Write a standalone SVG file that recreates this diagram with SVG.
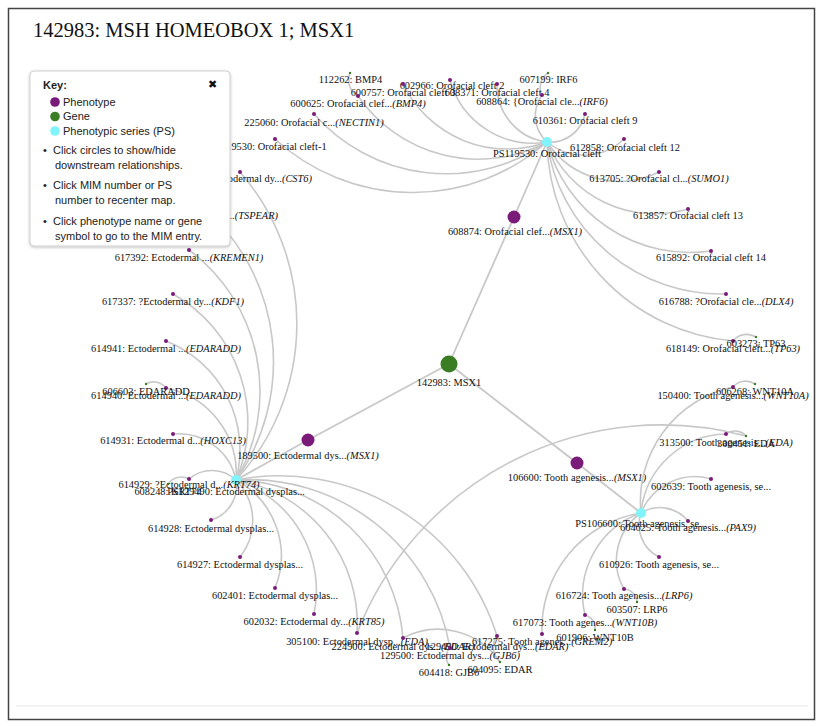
<svg xmlns="http://www.w3.org/2000/svg" width="823" height="727" viewBox="0 0 823 727">
<defs>
<style>
.e{fill:none;stroke:#c8c8c8;stroke-width:1.6}
.s{fill:none;stroke:#c8c8c8;stroke-width:1.8}
.l{font-family:"Liberation Serif",serif;font-size:10.4px;text-anchor:middle;fill:#111}
.i{font-style:italic}
.ph{fill:#7a1b7a}
.gn{fill:#3a7d22}
.ps{fill:#80f4fa}
.k{font-family:"Liberation Sans",Arial,sans-serif;font-size:11px;fill:#222}
</style>
<filter id="sh" x="-10%" y="-10%" width="120%" height="120%">
<feDropShadow dx="0" dy="1" stdDeviation="1.5" flood-color="#000" flood-opacity="0.25"/>
</filter>
</defs>
<rect x="0" y="0" width="823" height="727" fill="#fff"/>
<rect x="8.5" y="8.5" width="806" height="711" fill="#fff" stroke="#444" stroke-width="1.5"/>
<line x1="16" y1="706" x2="808" y2="706" stroke="#f2f2f2" stroke-width="2"/>
<text x="33" y="37" font-family="Liberation Serif,serif" font-size="20.5" fill="#111">142983: MSH HOMEOBOX 1; MSX1</text>

<g id="connectors">
<path class="s" d="M449,364 L514,217"/>
<path class="s" d="M449,364 L308,440"/>
<path class="s" d="M449,364 L577,463"/>
<path class="s" d="M514,217 L547,142"/>
<path class="s" d="M308,440 L236,480"/>
<path class="s" d="M577,463 L641,513"/>
<path class="e" d="M547,142 A204,204 0 0,1 275,139"/>
<path class="e" d="M547,142 A176,176 0 0,1 314,114"/>
<path class="e" d="M547,142 A146,146 0 0,1 358,96"/>
<path class="e" d="M547,142 A116,116 0 0,1 403,84"/>
<path class="e" d="M547,142 A86,86 0 0,1 450,80"/>
<path class="e" d="M547,142 A57,57 0 0,1 497,84"/>
<path class="e" d="M547,142 A35.5,35.5 0 0,1 542,95"/>
<path class="e" d="M547,142 A35.4,35.4 0 0,0 585,114"/>
<path class="e" d="M547,142 A58,58 0 0,0 624,139"/>
<path class="e" d="M547,142 A87,87 0 0,0 659,172"/>
<path class="e" d="M547,142 A117,117 0 0,0 688,209"/>
<path class="e" d="M547,142 A148,148 0 0,0 711,251"/>
<path class="e" d="M547,142 A176,176 0 0,0 726,294"/>
<path class="e" d="M547,142 A204,204 0 0,0 733,341"/>
<path class="e" d="M236,480 A231,231 0 0,0 240,172"/>
<path class="e" d="M236,480 A205,205 0 0,0 204,208"/>
<path class="e" d="M236,480 A176,176 0 0,0 189,250"/>
<path class="e" d="M236,480 A147,147 0 0,0 173,294"/>
<path class="e" d="M236,480 A117,117 0 0,0 166,341"/>
<path class="e" d="M236,480 A87,87 0 0,0 166,388"/>
<path class="e" d="M236,480 A58.5,58.5 0 0,0 173,434"/>
<path class="e" d="M236,480 A35,35 0 0,0 189,479"/>
<path class="e" d="M236,480 A35.4,35.4 0 0,1 211,520"/>
<path class="e" d="M236,480 A58,58 0 0,1 240,557"/>
<path class="e" d="M236,480 A86,86 0 0,1 275,588"/>
<path class="e" d="M236,480 A116,116 0 0,1 314,614"/>
<path class="e" d="M236,480 A146,146 0 0,1 357,633"/>
<path class="e" d="M236,480 A172,172 0 0,1 403,638"/>
<path class="e" d="M236,480 A204,204 0 0,1 450,648"/>
<path class="e" d="M236,480 A228,228 0 0,1 497,636"/>
<path class="e" d="M641,513 A117,117 0 0,1 733,387"/>
<path class="e" d="M641,513 A87,87 0 0,1 726,434"/>
<path class="e" d="M641,513 A58,58 0 0,1 711,479"/>
<path class="e" d="M641,513 A36,36 0 0,1 688,521"/>
<path class="e" d="M641,513 A36,36 0 0,0 659,557"/>
<path class="e" d="M641,513 A58,58 0 0,0 624,589"/>
<path class="e" d="M641,513 A87,87 0 0,0 585,615"/>
<path class="e" d="M641,513 A117,117 0 0,0 542,634"/>
<path class="e" d="M358,96 A18.3,18.3 0 0,1 350,73"/>
<path class="e" d="M542,95 A17,17 0 0,1 548,73"/>
<path class="e" d="M733,341 A17.5,17.5 0 0,1 756,337"/>
<path class="e" d="M733,387 A16.6,16.6 0 0,1 755,384"/>
<path class="e" d="M726,434 A15,15 0 0,1 746,436"/>
<path class="e" d="M357,633 A327,327 0 0,1 746,436"/>
<path class="e" d="M624,589 A13.8,13.8 0 0,1 637,602"/>
<path class="e" d="M585,615 A13.5,13.5 0 0,1 595,630"/>
<path class="e" d="M403,638 A75,75 0 0,1 500,662"/>
<path class="e" d="M497,636 A19.6,19.6 0 0,0 500,662"/>
<path class="e" d="M450,648 A12.8,12.8 0 0,0 449,665"/>
<path class="e" d="M189,479 A16.2,16.2 0 0,0 168,484"/>
<path class="e" d="M166,388 A15.3,15.3 0 0,0 146,384"/>
</g>

<g id="n142983"><circle cx="449" cy="364" r="8.5" class="gn"/><text class="l" x="449" y="386">142983: MSX1</text></g>
<g id="n608874"><circle cx="514" cy="217" r="6.5" class="ph"/><text class="l" x="515" y="235">608874: Orofacial clef...<tspan class="i">(MSX1)</tspan></text></g>
<g id="n189500"><circle cx="308" cy="440" r="6.5" class="ph"/><text class="l" x="308" y="459">189500: Ectodermal dys...<tspan class="i">(MSX1)</tspan></text></g>
<g id="n106600"><circle cx="577" cy="463" r="6.5" class="ph"/><text class="l" x="577" y="481">106600: Tooth agenesis...<tspan class="i">(MSX1)</tspan></text></g>

<g id="ps119530"><circle cx="547" cy="142" r="5" class="ps"/><text class="l" x="547" y="157">PS119530: Orofacial cleft</text></g>
<g id="ps129490"><circle cx="236" cy="480" r="5" class="ps"/><text class="l" x="236" y="495">PS129490: Ectodermal dysplas...</text></g>
<g id="ps106600"><circle cx="641" cy="513" r="5" class="ps"/><text class="l" x="641" y="527">PS106600: Tooth agenesis, se...</text></g>

<g id="g112262"><circle cx="350" cy="73" r="1.2" class="gn"/><text class="l" x="350.5" y="83">112262: BMP4</text></g>
<g id="g607199"><circle cx="548" cy="73" r="1.2" class="gn"/><text class="l" x="548.5" y="83">607199: IRF6</text></g>
<g id="p602966"><circle cx="450" cy="80" r="2" class="ph"/><text class="l" x="452" y="89">602966: Orofacial cleft 2</text></g>
<g id="p600757"><circle cx="403" cy="84" r="2" class="ph"/><text class="l" x="403" y="96">600757: Orofacial cleft 3</text></g>
<g id="p608371"><circle cx="497" cy="84" r="2" class="ph"/><text class="l" x="497" y="96">608371: Orofacial cleft 4</text></g>
<g id="p608864"><circle cx="542" cy="95" r="2" class="ph"/><text class="l" x="542" y="105">608864: {Orofacial cle...<tspan class="i">(IRF6)</tspan></text></g>
<g id="p600625"><circle cx="358" cy="96" r="2" class="ph"/><text class="l" x="358" y="107">600625: Orofacial clef...<tspan class="i">(BMP4)</tspan></text></g>
<g id="p225060"><circle cx="314" cy="114" r="2" class="ph"/><text class="l" x="314" y="126">225060: Orofacial c...<tspan class="i">(NECTIN1)</tspan></text></g>
<g id="p119530"><circle cx="275" cy="139" r="2" class="ph"/><text class="l" x="274" y="150">119530: Orofacial cleft-1</text></g>
<g id="p610361"><circle cx="585" cy="114" r="2" class="ph"/><text class="l" x="585" y="124">610361: Orofacial cleft 9</text></g>
<g id="p612858"><circle cx="624" cy="139" r="2" class="ph"/><text class="l" x="625" y="151">612858: Orofacial cleft 12</text></g>
<g id="p613705"><circle cx="659" cy="172" r="2" class="ph"/><text class="l" x="659" y="182">613705: ?Orofacial cl...<tspan class="i">(SUMO1)</tspan></text></g>
<g id="p613857"><circle cx="688" cy="209" r="2" class="ph"/><text class="l" x="688" y="219">613857: Orofacial cleft 13</text></g>
<g id="p615892"><circle cx="711" cy="251" r="2" class="ph"/><text class="l" x="711" y="261">615892: Orofacial cleft 14</text></g>
<g id="p616788"><circle cx="726" cy="294" r="2" class="ph"/><text class="l" x="726" y="305">616788: ?Orofacial cle...<tspan class="i">(DLX4)</tspan></text></g>
<g id="p618149"><circle cx="733" cy="341" r="2" class="ph"/><text class="l" x="733" y="352">618149: Orofacial cleft...<tspan class="i">(TP63)</tspan></text></g>
<g id="g603273"><circle cx="756" cy="337" r="1.2" class="gn"/><text class="l" x="756" y="347">603273: TP63</text></g>

<g id="pCST6"><circle cx="240" cy="172" r="2" class="ph"/><text class="l" x="312" y="182" style="text-anchor:end">Ectodermal dy...<tspan class="i">(CST6)</tspan></text></g>
<g id="pTSPEAR"><circle cx="204" cy="208" r="2" class="ph"/><text class="l" x="278" y="219" style="text-anchor:end">Ectodermal ...<tspan class="i">(TSPEAR)</tspan></text></g>
<g id="p617392"><circle cx="189" cy="250" r="2" class="ph"/><text class="l" x="189" y="261">617392: Ectodermal ...<tspan class="i">(KREMEN1)</tspan></text></g>
<g id="p617337"><circle cx="173" cy="294" r="2" class="ph"/><text class="l" x="173" y="305">617337: ?Ectodermal dy...<tspan class="i">(KDF1)</tspan></text></g>
<g id="p614941"><circle cx="166" cy="341" r="2" class="ph"/><text class="l" x="166" y="352">614941: Ectodermal ...<tspan class="i">(EDARADD)</tspan></text></g>
<g id="p614940"><circle cx="166" cy="388" r="2" class="ph"/><text class="l" x="166" y="399">614940: Ectodermal ...<tspan class="i">(EDARADD)</tspan></text></g>
<g id="g606603"><circle cx="146" cy="384" r="1.2" class="gn"/><text class="l" x="146" y="395">606603: EDARADD</text></g>
<g id="p614931"><circle cx="173" cy="434" r="2" class="ph"/><text class="l" x="173" y="444">614931: Ectodermal d...<tspan class="i">(HOXC13)</tspan></text></g>
<g id="p614929"><circle cx="189" cy="479" r="2" class="ph"/><text class="l" x="189" y="488">614929: ?Ectodermal d...<tspan class="i">(KRT74)</tspan></text></g>
<g id="g608248"><circle cx="168" cy="484" r="1.2" class="gn"/><text class="l" x="168" y="495">608248: KRT74</text></g>
<g id="p614928"><circle cx="211" cy="520" r="2" class="ph"/><text class="l" x="211" y="532">614928: Ectodermal dysplas...</text></g>
<g id="p614927"><circle cx="240" cy="557" r="2" class="ph"/><text class="l" x="240" y="568">614927: Ectodermal dysplas...</text></g>
<g id="p602401"><circle cx="275" cy="588" r="2" class="ph"/><text class="l" x="275" y="599">602401: Ectodermal dysplas...</text></g>
<g id="p602032"><circle cx="314" cy="614" r="2" class="ph"/><text class="l" x="314" y="625">602032: Ectodermal dy...<tspan class="i">(KRT85)</tspan></text></g>
<g id="p305100"><circle cx="357" cy="633" r="2" class="ph"/><text class="l" x="357" y="645">305100: Ectodermal dysp...<tspan class="i">(EDA)</tspan></text></g>
<g id="p224900"><circle cx="403" cy="638" r="2" class="ph"/><text class="l" x="403" y="650">224900: Ectodermal dys...<tspan class="i">(EDAR)</tspan></text></g>
<g id="p129490"><circle cx="497" cy="636" r="2" class="ph"/><text class="l" x="497" y="650">129490: Ectodermal dys...<tspan class="i">(EDAR)</tspan></text></g>
<g id="p129500"><circle cx="450" cy="648" r="2" class="ph"/><text class="l" x="450" y="659">129500: Ectodermal dys...<tspan class="i">(GJB6)</tspan></text></g>
<g id="g604418"><circle cx="449" cy="665" r="1.2" class="gn"/><text class="l" x="449" y="676">604418: GJB6</text></g>
<g id="g604095"><circle cx="500" cy="662" r="1.2" class="gn"/><text class="l" x="500" y="673">604095: EDAR</text></g>

<g id="p150400"><circle cx="733" cy="387" r="2" class="ph"/><text class="l" x="733" y="399">150400: Tooth agenesis...<tspan class="i">(WNT10A)</tspan></text></g>
<g id="g606268"><circle cx="755" cy="384" r="1.2" class="gn"/><text class="l" x="755" y="395">606268: WNT10A</text></g>
<g id="p313500"><circle cx="726" cy="434" r="2" class="ph"/><text class="l" x="726" y="446">313500: Tooth agenesis...<tspan class="i">(EDA)</tspan></text></g>
<g id="g300451"><circle cx="746" cy="436" r="1.2" class="gn"/><text class="l" x="746" y="447">300451: EDA</text></g>
<g id="p602639"><circle cx="711" cy="479" r="2" class="ph"/><text class="l" x="711" y="490">602639: Tooth agenesis, se...</text></g>
<g id="p604625"><circle cx="688" cy="521" r="2" class="ph"/><text class="l" x="688" y="531">604625: Tooth agenesis...<tspan class="i">(PAX9)</tspan></text></g>
<g id="p610926"><circle cx="659" cy="557" r="2" class="ph"/><text class="l" x="659" y="568">610926: Tooth agenesis, se...</text></g>
<g id="p616724"><circle cx="624" cy="589" r="2" class="ph"/><text class="l" x="624" y="599">616724: Tooth agenesis...<tspan class="i">(LRP6)</tspan></text></g>
<g id="g603507"><circle cx="637" cy="602" r="1.2" class="gn"/><text class="l" x="637" y="613">603507: LRP6</text></g>
<g id="p617073"><circle cx="585" cy="615" r="2" class="ph"/><text class="l" x="585" y="626">617073: Tooth agenes...<tspan class="i">(WNT10B)</tspan></text></g>
<g id="g601906"><circle cx="595" cy="630" r="1.2" class="gn"/><text class="l" x="595" y="641">601906: WNT10B</text></g>
<g id="p617275"><circle cx="542" cy="634" r="2" class="ph"/><text class="l" x="542" y="645">617275: Tooth agenes...<tspan class="i">(GREM2)</tspan></text></g>

<g id="key">
<rect x="30" y="71" width="200" height="175" rx="4" fill="#fff" stroke="#cfcfcf" filter="url(#sh)"/>
<text class="k" x="43" y="89" font-weight="bold">Key:</text>
<text x="208" y="88" font-family="DejaVu Sans,sans-serif" font-size="11" fill="#111">✖</text>
<circle cx="55" cy="102" r="4.8" class="ph"/>
<text class="k" x="63" y="105.5">Phenotype</text>
<circle cx="55" cy="116.5" r="4.8" class="gn"/>
<text class="k" x="63" y="120">Gene</text>
<circle cx="55" cy="131" r="4.8" class="ps"/>
<text class="k" x="63" y="134.5">Phenotypic series (PS)</text>
<text class="k" x="43" y="154">•</text><text class="k" x="53" y="154">Click circles to show/hide</text>
<text class="k" x="55" y="169">downstream relationships.</text>
<text class="k" x="43" y="189">•</text><text class="k" x="53" y="189">Click MIM number or PS</text>
<text class="k" x="55" y="204">number to recenter map.</text>
<text class="k" x="43" y="224.5">•</text><text class="k" x="53" y="224.5">Click phenotype name or gene</text>
<text class="k" x="55" y="239.5">symbol to go to the MIM entry.</text>
</g>
</svg>
